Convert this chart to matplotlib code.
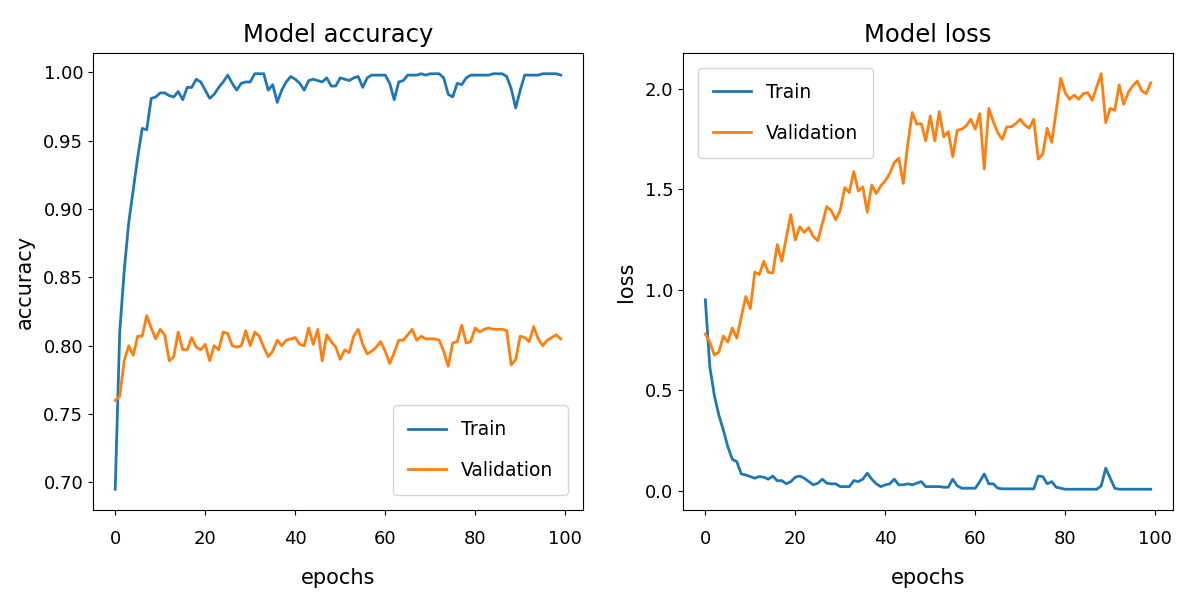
import matplotlib
matplotlib.use("Agg")
import matplotlib.pyplot as plt

epochs = list(range(100))

train_acc = [
    0.695, 0.810, 0.855, 0.890, 0.914, 0.938, 0.959, 0.958, 0.981, 0.982,
    0.985, 0.985, 0.983, 0.982, 0.986, 0.980, 0.989, 0.989, 0.995, 0.993,
    0.987, 0.981, 0.984, 0.989, 0.993, 0.998, 0.992, 0.987, 0.992, 0.993,
    0.993, 0.999, 0.999, 0.999, 0.987, 0.991, 0.978, 0.987, 0.993, 0.997,
    0.995, 0.992, 0.987, 0.994, 0.995, 0.994, 0.993, 0.996, 0.990, 0.990,
    0.996, 0.995, 0.994, 0.996, 0.997, 0.989, 0.996, 0.998, 0.998, 0.998,
    0.998, 0.992, 0.980, 0.993, 0.994, 0.998, 0.998, 0.998, 0.999, 0.998,
    0.999, 0.999, 0.999, 0.996, 0.984, 0.982, 0.992, 0.991, 0.996, 0.998,
    0.998, 0.998, 0.998, 0.998, 0.999, 0.999, 0.999, 0.997, 0.988, 0.974,
    0.987, 0.998, 0.998, 0.998, 0.998, 0.999, 0.999, 0.999, 0.999, 0.998,
]

val_acc = [
    0.760, 0.763, 0.789, 0.800, 0.793, 0.807, 0.807, 0.822, 0.813, 0.805,
    0.812, 0.808, 0.789, 0.792, 0.810, 0.797, 0.797, 0.806, 0.799, 0.797,
    0.801, 0.789, 0.800, 0.797, 0.810, 0.809, 0.800, 0.799, 0.800, 0.811,
    0.800, 0.810, 0.807, 0.799, 0.792, 0.796, 0.804, 0.800, 0.804, 0.805,
    0.806, 0.801, 0.800, 0.813, 0.801, 0.812, 0.789, 0.808, 0.803, 0.799,
    0.790, 0.797, 0.795, 0.807, 0.812, 0.801, 0.794, 0.796, 0.799, 0.803,
    0.796, 0.787, 0.795, 0.804, 0.804, 0.808, 0.812, 0.804, 0.807, 0.805,
    0.805, 0.805, 0.804, 0.796, 0.785, 0.802, 0.803, 0.815, 0.802, 0.803,
    0.813, 0.810, 0.812, 0.813, 0.812, 0.812, 0.812, 0.811, 0.786, 0.790,
    0.807, 0.806, 0.803, 0.814, 0.805, 0.800, 0.804, 0.806, 0.808, 0.805,
]

train_loss = [
    0.951, 0.617, 0.476, 0.377, 0.303, 0.220, 0.157, 0.145, 0.084, 0.079,
    0.071, 0.063, 0.071, 0.068, 0.058, 0.074, 0.050, 0.051, 0.035, 0.046,
    0.068, 0.074, 0.063, 0.046, 0.030, 0.038, 0.058, 0.038, 0.035, 0.035,
    0.021, 0.021, 0.021, 0.051, 0.046, 0.058, 0.088, 0.058, 0.035, 0.021,
    0.030, 0.035, 0.058, 0.030, 0.030, 0.035, 0.030, 0.038, 0.046, 0.021,
    0.021, 0.021, 0.021, 0.018, 0.018, 0.058, 0.025, 0.013, 0.013, 0.013,
    0.013, 0.046, 0.084, 0.035, 0.035, 0.013, 0.010, 0.010, 0.010, 0.010,
    0.010, 0.010, 0.010, 0.010, 0.074, 0.071, 0.035, 0.046, 0.018, 0.013,
    0.008, 0.008, 0.008, 0.008, 0.008, 0.008, 0.008, 0.008, 0.025, 0.113,
    0.063, 0.013, 0.008, 0.008, 0.008, 0.008, 0.008, 0.008, 0.008, 0.008,
]

val_loss = [
    0.780, 0.740, 0.675, 0.690, 0.770, 0.740, 0.810, 0.760, 0.865, 0.967,
    0.906, 1.088, 1.076, 1.142, 1.088, 1.083, 1.225, 1.142, 1.261, 1.374,
    1.248, 1.314, 1.286, 1.310, 1.265, 1.245, 1.328, 1.414, 1.394, 1.348,
    1.397, 1.509, 1.484, 1.589, 1.492, 1.512, 1.386, 1.522, 1.479, 1.517,
    1.543, 1.579, 1.633, 1.655, 1.529, 1.725, 1.882, 1.824, 1.827, 1.741,
    1.865, 1.741, 1.887, 1.761, 1.787, 1.662, 1.794, 1.799, 1.816, 1.849,
    1.799, 1.877, 1.601, 1.903, 1.837, 1.782, 1.749, 1.811, 1.811, 1.827,
    1.849, 1.820, 1.804, 1.849, 1.650, 1.675, 1.804, 1.733, 1.890, 2.052,
    1.981, 1.948, 1.969, 1.948, 1.976, 1.981, 1.943, 2.009, 2.075, 1.832,
    1.903, 1.893, 2.019, 1.923, 1.981, 2.014, 2.039, 1.990, 1.976, 2.030,
]

panels = [
    ("Model accuracy", "accuracy", train_acc, val_acc, "lower right"),
    ("Model loss", "loss", train_loss, val_loss, "upper left"),
]

fig = plt.figure(figsize=(11.84, 6.04), dpi=100)
axes = [
    fig.add_axes([0.0785, 0.1556, 0.4139, 0.7567]),
    fig.add_axes([0.5769, 0.1556, 0.4138, 0.7567]),
]

for ax, (title, ylabel, train, val, loc) in zip(axes, panels):
    ax.plot(epochs, train, color="#1f77b4", linewidth=2.0, label="Train")
    ax.plot(epochs, val, color="#ff7f0e", linewidth=2.0, label="Validation")
    ax.set_title(title, fontsize=17.5, pad=8)
    ax.set_xlabel("epochs", fontsize=15, labelpad=14)
    ax.set_ylabel(ylabel, fontsize=15, labelpad=6)
    ax.tick_params(labelsize=13)
    ax.tick_params(axis="x", pad=11)
    ax.legend(loc=loc, fontsize=13.5, labelspacing=1.15, borderpad=0.8,
              handlelength=2.0, borderaxespad=0.8)

axes[0].set_yticks([0.70, 0.75, 0.80, 0.85, 0.90, 0.95, 1.00])
axes[1].set_yticks([0.0, 0.5, 1.0, 1.5, 2.0])

fig.savefig("out.png", dpi=100)
